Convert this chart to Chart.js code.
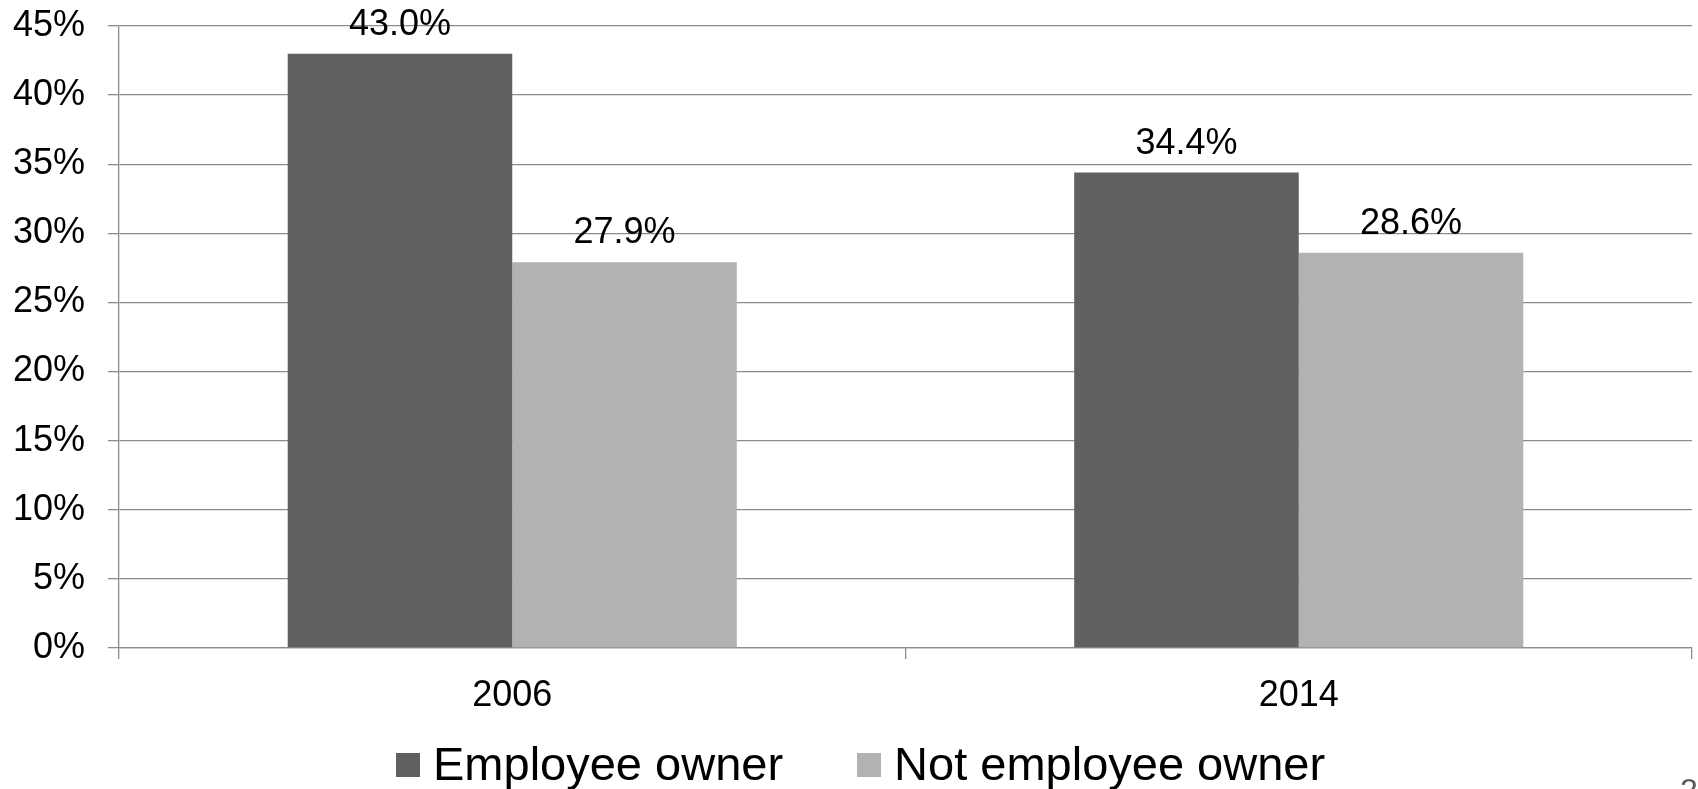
<!DOCTYPE html>
<html>
<head>
<meta charset="utf-8">
<title>Employee owner vs not employee owner</title>
<script src="https://cdn.jsdelivr.net/npm/chart.js@4/dist/chart.umd.min.js"></script>
<style>
    html, body { margin: 0; padding: 0; background: #fff; overflow: hidden; }
    .chart-wrap { position: relative; width: 1698px; height: 789px; }
    .legend {
        position: absolute; left: 396px; top: 740px;
        display: flex; align-items: center;
        font: 47px/47px "Liberation Sans", Arial, sans-serif; color: #000;
        white-space: nowrap;
    }
    .legend-item { display: flex; align-items: center; margin-right: 74px; }
    .legend-box { width: 24px; height: 24px; margin-right: 13px; margin-top: 3px; }
    .slide-num {
        position: absolute; left: 1680px; top: 774px;
        font: 32px/32px "Liberation Sans", Arial, sans-serif; color: #595959;
    }
</style>
</head>
<body>
<div class="chart-wrap">
    <canvas id="ownerChart"></canvas>
    <div class="legend" id="legend"></div>
    <div class="slide-num">2</div>
</div>
<script>
// Chart data
const years = ['2006', '2014'];
const seriesNames = ['Employee owner', 'Not employee owner'];
const seriesColors = ['#606060', '#b2b2b2'];
const employeeOwner = [43.0, 34.4];
const notEmployeeOwner = [27.9, 28.6];
const yTicks = [0, 5, 10, 15, 20, 25, 30, 35, 40, 45];

const FONT = '"Liberation Sans", Arial, sans-serif';
const GRID = '#8c8c8c';

// Value labels above each bar
const barLabels = {
    id: 'barLabels',
    afterDatasetsDraw(chart) {
        const ctx = chart.ctx;
        ctx.save();
        ctx.font = '36px ' + FONT;
        ctx.fillStyle = '#000';
        ctx.textAlign = 'center';
        ctx.textBaseline = 'alphabetic';
        chart.data.datasets.forEach((ds, i) => {
            chart.getDatasetMeta(i).data.forEach((bar, j) => {
                ctx.fillText(ds.data[j].toFixed(1) + '%', bar.x, bar.y - 19);
            });
        });
        ctx.restore();
    }
};

const ctx = document.getElementById('ownerChart').getContext('2d');

const chart = new Chart(ctx, {
    type: 'bar',
    data: {
        labels: years,
        datasets: [employeeOwner, notEmployeeOwner].map((values, i) => ({
            label: seriesNames[i],
            data: values,
            backgroundColor: seriesColors[i],
            borderWidth: 0,
            categoryPercentage: 0.571,
            barPercentage: 1
        }))
    },
    options: {
        responsive: true,
        maintainAspectRatio: false,
        animation: false,
        layout: {
            padding: { top: 26, right: 6, bottom: 0, left: 0 }
        },
        plugins: {
            tooltip: { enabled: false },
            legend: { display: false }
        },
        scales: {
            x: {
                offset: true,
                afterFit(scale) { scale.height = 141; },
                grid: {
                    offset: true,
                    drawOnChartArea: false,
                    drawTicks: true,
                    tickLength: 11,
                    color: GRID,
                    lineWidth: 1.3
                },
                border: { display: true, color: GRID, width: 1.3 },
                ticks: {
                    font: { family: FONT, size: 36 },
                    color: '#000',
                    padding: 15
                }
            },
            y: {
                min: 0,
                max: 45,
                afterFit(scale) {
                    scale.width = 119;
                    // labels may overhang the plot top; the page margin covers them
                    scale.paddingTop = 0;
                    scale.paddingBottom = 0;
                },
                afterBuildTicks(scale) {
                    scale.ticks = yTicks.map(v => ({ value: v }));
                },
                grid: {
                    drawTicks: true,
                    tickLength: 11,
                    color: GRID,
                    lineWidth: 1.3
                },
                border: { display: true, color: GRID, width: 1.3 },
                ticks: {
                    font: { family: FONT, size: 36 },
                    color: '#000',
                    padding: 23,
                    callback: v => v + '%'
                }
            }
        }
    },
    plugins: [barLabels]
});

// HTML legend built from the same series
const legendEl = document.getElementById('legend');
chart.data.datasets.forEach(ds => {
    const item = document.createElement('div');
    item.className = 'legend-item';
    item.innerHTML = `<span class="legend-box" style="background:${ds.backgroundColor}"></span><span>${ds.label}</span>`;
    legendEl.appendChild(item);
});
</script>
</body>
</html>
